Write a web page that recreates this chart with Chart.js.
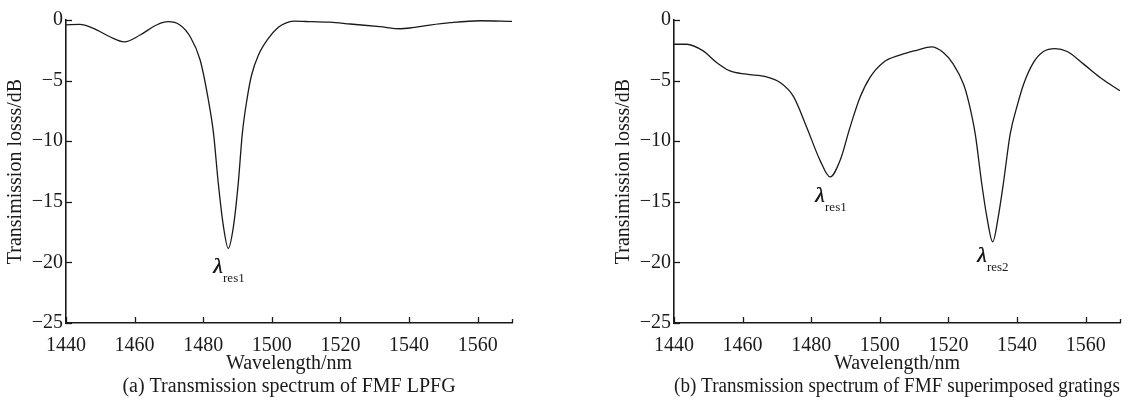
<!DOCTYPE html>
<html><head><meta charset="utf-8">
<script src="https://cdn.jsdelivr.net/npm/chart.js@4.4.1/dist/chart.umd.min.js"></script>
<style>
html,body{margin:0;padding:0;background:#fff;}
#wrap{position:relative;width:1148px;height:402px;overflow:hidden;background:#fff;}
canvas{position:absolute;top:0;}
</style></head><body>
<div id="wrap">
<canvas id="ca" width="560" height="402" style="left:0px"></canvas>
<canvas id="cb" width="560" height="402" style="left:608px"></canvas>
</div>
<script>
// ---- data (a) Transmission spectrum of FMF LPFG ----
const wavelengthA = [1440, 1444, 1448, 1452.8, 1457, 1461.6, 1466.4, 1469.8, 1473.2, 1476.2, 1479.1, 1481.5, 1483, 1484.4, 1485.9, 1487.3, 1488.8, 1490.2, 1491.4, 1492.8, 1494.1, 1496.1, 1499, 1501.9, 1504, 1506.5, 1511.6, 1517, 1522.8, 1531.5, 1537.4, 1540.3, 1546, 1552, 1560.7, 1570];
const lossA = [-0.40, -0.36, -0.69, -1.38, -1.80, -1.24, -0.41, -0.14, -0.41, -1.38, -3.3, -6.6, -9.35, -13.5, -17.05, -18.85, -17.05, -13.5, -9.35, -6.46, -4.54, -2.89, -1.51, -0.6, -0.25, -0.1, -0.14, -0.18, -0.33, -0.55, -0.72, -0.66, -0.42, -0.22, -0.06, -0.11];

// ---- data (b) Transmission spectrum of FMF superimposed gratings ----
const wavelengthB = [1440, 1443.7, 1448.5, 1452.4, 1456.3, 1461.1, 1467, 1470.9, 1474.8, 1478.7, 1482.6, 1485.5, 1488.4, 1491.3, 1494.2, 1497.1, 1501, 1505.8, 1510.7, 1515.1, 1518.5, 1521.4, 1524.4, 1525.8, 1527.8, 1529.7, 1531.2, 1532.9, 1534.5, 1536, 1538, 1540.2, 1541.9, 1544.8, 1547.7, 1551.1, 1554.6, 1559.4, 1564.2, 1570];
const lossB = [-2.0, -2.0, -2.55, -3.5, -4.2, -4.47, -4.69, -5.15, -6.3, -8.86, -11.6, -12.95, -11.6, -8.86, -6.4, -4.75, -3.5, -2.9, -2.5, -2.22, -2.69, -3.64, -5.3, -6.66, -9.4, -13.5, -16.26, -18.3, -16.26, -13.5, -9.4, -6.9, -5.3, -3.5, -2.6, -2.36, -2.6, -3.64, -4.74, -5.84];

// ---- ticks ----
const xTickValues = [1440, 1460, 1480, 1500, 1520, 1540, 1560, 1570];
const xTickLabels = ['1440', '1460', '1480', '1500', '1520', '1540', '1560', ''];
const yTickValues = [-25, -20, -15, -10, -5, 0];
const yTickLabels = ['\u221225', '\u221220', '\u221215', '\u221210', '\u22125', '0'];

// ---- texts ----
const yTitle = 'Transimission losss/dB';
const xTitle = 'Wavelength/nm';
const captionA = '(a) Transmission spectrum of FMF LPFG';
const captionB = '(b) Transmission spectrum of FMF superimposed gratings';

// ---- annotations (data coords of the lambda label) ----
const annoXA = [1482.85];
const annoYA = [-20.87];
const annoSubA = ['res1'];
const annoXB = [1481.1, 1528.3];
const annoYB = [-15.05, -19.96];
const annoSubB = ['res1', 'res2'];

const SERIF = "'Liberation Serif', 'Times New Roman', serif";
const INK = '#1a1a1a';

const inwardTicks = {
  id: 'inwardTicks',
  afterDraw(chart, args, opts) {
    const {ctx, chartArea: a, scales: {x, y}} = chart;
    ctx.save();
    ctx.strokeStyle = INK;
    ctx.lineWidth = 1.3;
    x.ticks.forEach(t => {
      const px = Math.round(x.getPixelForValue(t.value)) + 0.5;
      const len = t.value === x.max ? 4 : 6;
      ctx.beginPath(); ctx.moveTo(px, a.bottom); ctx.lineTo(px, a.bottom - len); ctx.stroke();
    });
    y.ticks.forEach(t => {
      const py = Math.round(y.getPixelForValue(t.value)) + 0.5;
      ctx.beginPath(); ctx.moveTo(a.left, py); ctx.lineTo(a.left + 6, py); ctx.stroke();
    });
    ctx.fillStyle = INK;
    ctx.textBaseline = 'alphabetic';
    ctx.textAlign = 'left';
    (opts.ax || []).forEach((vx, i) => {
      const px = x.getPixelForValue(vx);
      const py = y.getPixelForValue(opts.ay[i]);
      ctx.font = 'italic 22px ' + SERIF;
      ctx.fillText('\u03bb', px, py);
      ctx.fillText('\u03bb', px + 0.5, py);
      const w = ctx.measureText('\u03bb').width;
      ctx.font = '13px ' + SERIF;
      ctx.fillText(opts.sub[i], px + w + 0.5, py + 9);
    });
    ctx.restore();
  }
};

function makeChart(id, xs, ys, caption, ax, ay, sub) {
  const pts = xs.map((v, i) => ({x: v, y: ys[i]}));
  return new Chart(document.getElementById(id), {
    type: 'line',
    data: { datasets: [{ data: pts, borderColor: INK, borderWidth: 1.3, pointRadius: 0, fill: false, cubicInterpolationMode: 'monotone' }] },
    options: {
      responsive: false,
      devicePixelRatio: 1,
      animation: false,
      layout: { padding: { left: 0, right: 48, top: 20, bottom: 0 } },
      plugins: {
        legend: { display: false },
        tooltip: { enabled: false },
        inwardTicks: { ax: ax, ay: ay, sub: sub }
      },
      scales: {
        x: {
          type: 'linear', min: 1440, max: 1570,
          afterBuildTicks: s => { s.ticks = xTickValues.map(v => ({value: v})); },
          afterFit: s => { s.height = 79; },
          ticks: {
            autoSkip: false, maxRotation: 0, padding: 11, color: INK,
            font: { family: SERIF, size: 20 },
            callback: v => { const i = xTickValues.indexOf(v); return i >= 0 ? xTickLabels[i] : ''; }
          },
          grid: { display: true, drawOnChartArea: false, drawTicks: false },
          border: { display: true, color: INK, width: 1.6 },
          title: { display: true, text: [xTitle, caption], color: INK, font: { family: SERIF, size: 20, lineHeight: '23px' }, padding: { top: 0, bottom: 3.5 } }
        },
        y: {
          type: 'linear', min: -25, max: 0,
          afterBuildTicks: s => { s.ticks = yTickValues.map(v => ({value: v})); },
          afterFit: s => { s.width = 66; },
          ticks: {
            autoSkip: false, padding: 3, color: INK,
            font: { family: SERIF, size: 20 },
            callback: v => { const i = yTickValues.indexOf(v); return i >= 0 ? yTickLabels[i] : ''; }
          },
          grid: { display: true, drawOnChartArea: false, drawTicks: false },
          border: { display: true, color: INK, width: 1.6 },
          title: { display: true, text: yTitle, color: INK, font: { family: SERIF, size: 20, lineHeight: '24px' }, padding: { top: 4, bottom: 0 } }
        }
      }
    },
    plugins: [inwardTicks]
  });
}

makeChart('ca', wavelengthA, lossA, captionA, annoXA, annoYA, annoSubA);
makeChart('cb', wavelengthB, lossB, captionB, annoXB, annoYB, annoSubB);
</script>
</body></html>
